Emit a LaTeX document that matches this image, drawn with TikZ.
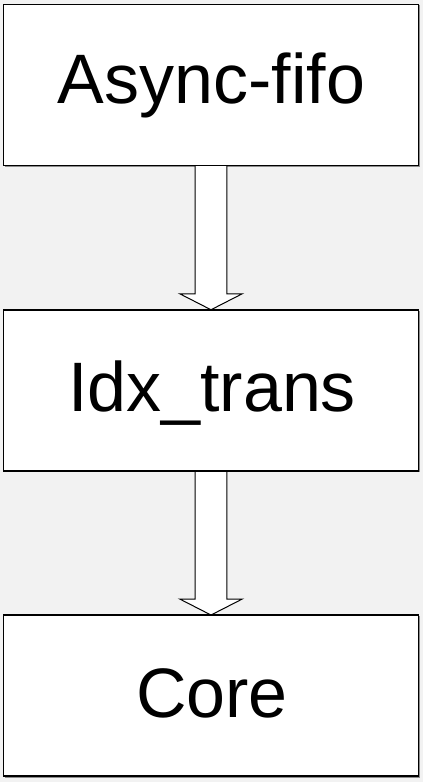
\documentclass[tikz,border=0pt]{standalone}
\usepackage{fontspec}
\setmainfont{Liberation Sans}
\usetikzlibrary{calc}
\definecolor{bgc}{HTML}{F2F2F2}
\definecolor{shadowc}{HTML}{8C8C8C}
\begin{document}
\begin{tikzpicture}[x=1bp,y=-1bp,
  box/.style={draw=black,line width=1.6bp,fill=white,minimum width=415bp,minimum height=161bp,inner sep=0pt,outer sep=0pt},
  boxtext/.style={anchor=base,inner sep=0pt,font=\fontsize{70bp}{80bp}\selectfont},
  blockarrow/.style={draw=black,line width=1bp,fill=white,line join=miter}]
\fill[bgc] (0,0) rectangle (423,782);
\useasboundingbox (0,0) rectangle (423,782);
% shadows
\foreach \cy in {85,390.25,695.5}{
  \fill[shadowc] (4.5,\cy-79.5) rectangle (420,\cy+82);
}
\coordinate (ca) at (211,85);
\coordinate (cb) at (211,390.25);
\coordinate (cc) at (211,695.5);
% arrows (drawn below boxes)
\path (ca) +(0,80.5) coordinate (as);
\path (cb) +(0,-80.5) coordinate (bn);
\path (cb) +(0,80.5) coordinate (bs);
\path (cc) +(0,-80.5) coordinate (cn);
\draw[blockarrow] ($(as)+(-15.8,0)$) -- ($(bn)+(-15.8,-16)$) -- ($(bn)+(-31.3,-16)$) -- (bn) -- ($(bn)+(31.3,-16)$) -- ($(bn)+(15.8,-16)$) -- ($(as)+(15.8,0)$);
\draw[blockarrow] ($(bs)+(-15.8,0)$) -- ($(cn)+(-15.8,-16)$) -- ($(cn)+(-31.3,-16)$) -- (cn) -- ($(cn)+(31.3,-16)$) -- ($(cn)+(15.8,-16)$) -- ($(bs)+(15.8,0)$);
% boxes
\node[box] (a) at (ca) {};
\node[box] (b) at (cb) {};
\node[box] (c) at (cc) {};
% texts
\node[boxtext] (ta) at (211.5,103.3) {Async-fifo};
\node[boxtext] (tb) at (212,411.7) {Idx\_trans};
\node[boxtext] (tc) at (212,717.3) {Core};
\end{tikzpicture}
\end{document}
